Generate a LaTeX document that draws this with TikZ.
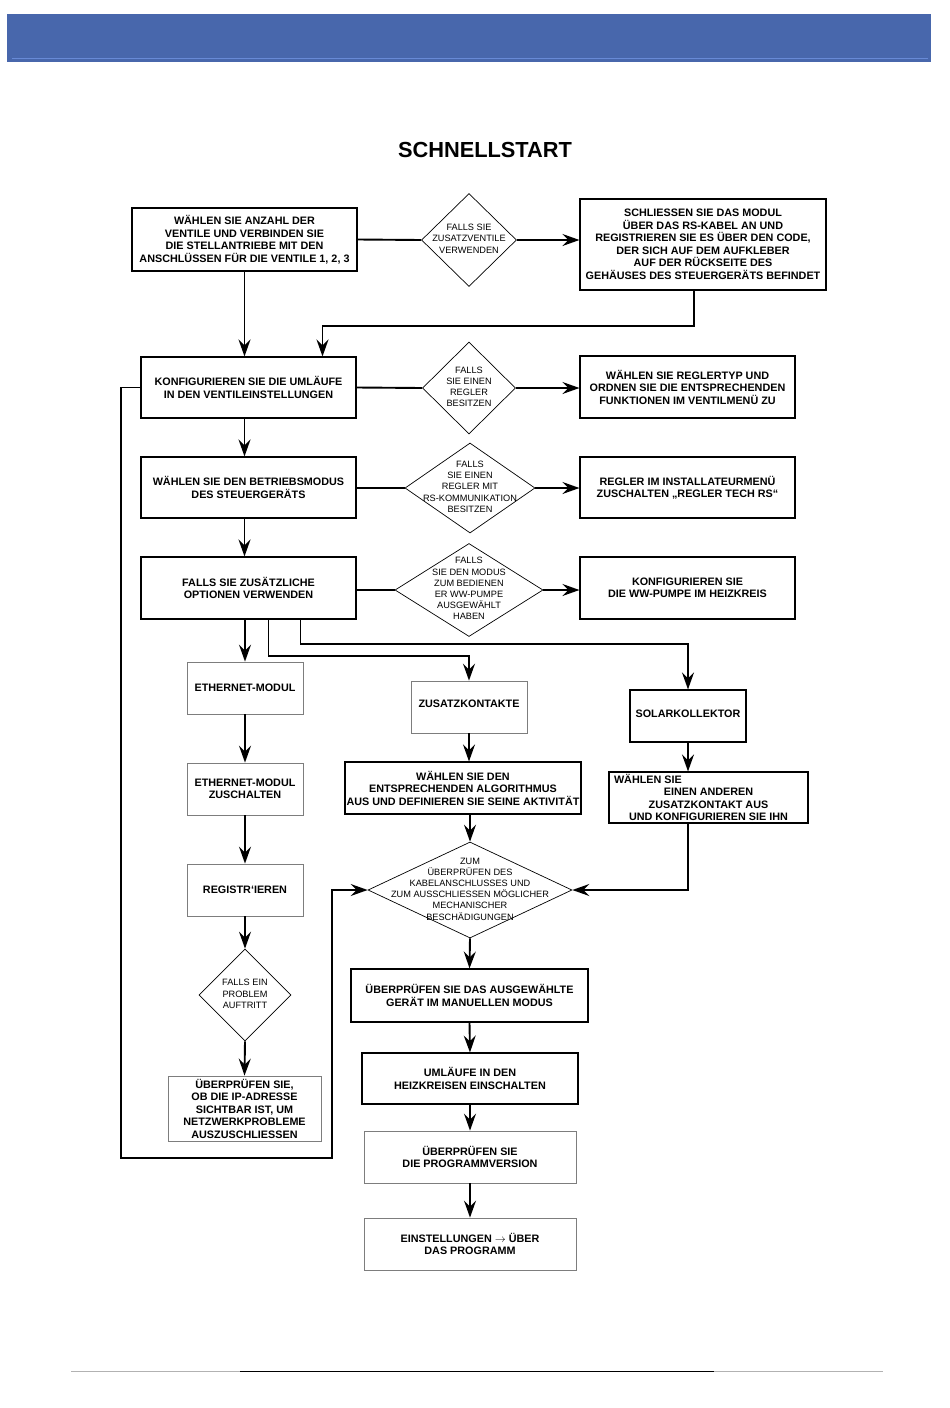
\documentclass[tikz,border=0pt]{standalone}
\usepackage{fontspec}
\setmainfont{Liberation Sans}
\usepackage{tikz}
\usetikzlibrary{arrows.meta, shapes.geometric, calc}
\definecolor{barblue}{RGB}{72, 103, 172}
\definecolor{barline}{RGB}{104, 138, 214}
\definecolor{framegray}{RGB}{125, 125, 125}
\newcommand{\dtext}[1]{\makebox[0pt]{\smash{\raisebox{-2pt}{\begin{tabular}{@{}c@{}}#1\end{tabular}}}}}

\begin{document}
\begin{tikzpicture}[x=1pt, y=-1pt,
    flowbox/.style={draw, line width=1.1pt, inner sep=0pt, align=center,
        font=\bfseries\fontsize{10.8}{12.5}\selectfont},
    greybox/.style={flowbox, draw=framegray, line width=0.8pt},
    decision/.style={draw, diamond, line width=0.7pt, inner sep=0pt, aspect=1,
        font=\fontsize{9.2}{11.2}\selectfont},
    flowline/.style={line width=1.9pt},
    flowarrow/.style={flowline, -{Stealth[length=17pt, width=12pt, inset=6pt]}}]
        \useasboundingbox (0,0) rectangle (950,1408);

        % Kopfzeile und Titel
        \fill[barblue] (7,14) rectangle (931,62);
        \draw[barline, line width=1pt] (12,58) -- (928,58);
        \node[font=\bfseries\fontsize{21.8}{26}\selectfont] (titel) at (485,150) {SCHNELLSTART};

        % Ventile und Module
        \node[flowbox, minimum width=225, minimum height=63] (b1) at (244.5,239.5)
            {WÄHLEN SIE ANZAHL DER\\VENTILE UND VERBINDEN SIE\\DIE STELLANTRIEBE MIT DEN\\ANSCHLÜSSEN FÜR DIE VENTILE 1, 2, 3};
        \node[decision, minimum width=95, minimum height=93] (d1) at (469,240)
            {\dtext{FALLS SIE\\ZUSATZVENTILE\\VERWENDEN}};
        \node[flowbox, minimum width=246, minimum height=91] (b2) at (703,244.5)
            {SCHLIESSEN SIE DAS MODUL\\ÜBER DAS RS-KABEL AN UND\\REGISTRIEREN SIE ES ÜBER DEN CODE,\\DER SICH AUF DEM AUFKLEBER\\AUF DER RÜCKSEITE DES\\GEHÄUSES DES STEUERGERÄTS BEFINDET};

        % Umlaeufe, Betriebsmodus, Optionen
        \node[flowbox, minimum width=215, minimum height=61] (b3) at (248.5,387.5)
            {KONFIGURIEREN SIE DIE UMLÄUFE\\IN DEN VENTILEINSTELLUNGEN};
        \node[decision, minimum width=93, minimum height=92] (d2) at (469,388)
            {\dtext{FALLS\\SIE EINEN\\REGLER\\BESITZEN}};
        \node[flowbox, minimum width=215, minimum height=62] (b4) at (687.5,387)
            {WÄHLEN SIE REGLERTYP UND\\ORDNEN SIE DIE ENTSPRECHENDEN\\FUNKTIONEN IM VENTILMENÜ ZU};
        \node[flowbox, minimum width=215, minimum height=61] (b5) at (248.5,487.5)
            {WÄHLEN SIE DEN BETRIEBSMODUS\\DES STEUERGERÄTS};
        \node[decision, minimum width=130, minimum height=90] (d3) at (470,488)
            {\dtext{FALLS\\SIE EINEN\\REGLER MIT\\RS-KOMMUNIKATION\\BESITZEN}};
        \node[flowbox, minimum width=215, minimum height=61] (b6) at (687.5,487.5)
            {REGLER IM INSTALLATEURMENÜ\\ZUSCHALTEN „REGLER TECH RS“};
        \node[flowbox, minimum width=215, minimum height=62] (b7) at (248.5,588)
            {FALLS SIE ZUSÄTZLICHE\\OPTIONEN VERWENDEN};
        \node[decision, minimum width=148, minimum height=93] (d4) at (469,590)
            {\dtext{FALLS\\SIE DEN MODUS\\ZUM BEDIENEN\\ER WW-PUMPE\\AUSGEWÄHLT\\HABEN}};
        \node[flowbox, minimum width=215, minimum height=62] (b8) at (687.5,588)
            {KONFIGURIEREN SIE\\DIE WW-PUMPE IM HEIZKREIS};

        % drei Zweige
        \node[greybox, minimum width=116, minimum height=52] (b9) at (245,688) {ETHERNET-MODUL};
        \node[greybox, minimum width=116, minimum height=52] (b10) at (469,707) {\raisebox{7pt}{ZUSATZKONTAKTE}};
        \node[flowbox, minimum width=116, minimum height=52] (b11) at (688,716) {\raisebox{4pt}{SOLARKOLLEKTOR}};
        \node[greybox, minimum width=116, minimum height=52] (b12) at (245,789) {ETHERNET-MODUL\\ZUSCHALTEN};
        \node[flowbox, minimum width=236, minimum height=52] (b13) at (463,788)
            {WÄHLEN SIE DEN\\ENTSPRECHENDEN ALGORITHMUS\\AUS UND DEFINIEREN SIE SEINE AKTIVITÄT};
        \node[flowbox, minimum width=199, minimum height=51] (b14) at (708.5,797.5)
            {\makebox[189pt][l]{WÄHLEN SIE}\\EINEN ANDEREN\\ZUSATZKONTAKT AUS\\UND KONFIGURIEREN SIE IHN};
        \node[greybox, minimum width=116, minimum height=52] (b15) at (245,890) {REGISTR`IEREN};
        \node[decision, minimum width=204, minimum height=96] (d5) at (470,890)
            {\dtext{ZUM\\ÜBERPRÜFEN DES\\KABELANSCHLUSSES UND\\ZUM AUSSCHLIESSEN MÖGLICHER\\MECHANISCHER\\BESCHÄDIGUNGEN}};
        \node[decision, minimum width=92, minimum height=92] (d6) at (245,995)
            {\dtext{FALLS EIN\\PROBLEM\\AUFTRITT}};
        \node[greybox, minimum width=153, minimum height=65] (b16) at (244.5,1108.5)
            {ÜBERPRÜFEN SIE,\\OB DIE IP-ADRESSE\\SICHTBAR IST, UM\\NETZWERKPROBLEME\\AUSZUSCHLIESSEN};

        % Abschluss
        \node[flowbox, minimum width=237, minimum height=53] (b17) at (469.5,995.5)
            {ÜBERPRÜFEN SIE DAS AUSGEWÄHLTE\\GERÄT IM MANUELLEN MODUS};
        \node[flowbox, minimum width=216, minimum height=51] (b18) at (470,1078.5)
            {UMLÄUFE IN DEN\\HEIZKREISEN EINSCHALTEN};
        \node[greybox, minimum width=212, minimum height=52] (b19) at (470,1157)
            {ÜBERPRÜFEN SIE\\DIE PROGRAMMVERSION};
        \node[greybox, minimum width=212, minimum height=52] (b20) at (470,1244)
            {EINSTELLUNGEN $\rightarrow$ ÜBER\\DAS PROGRAMM};

        % Verbindungen oben
        \draw[flowline] (b1.east) -- (d1.west);
        \draw[flowarrow] (d1.east) -- (d1.east -| b2.west);
        \draw[flowarrow] (b1.south) -- (b1.south |- b3.north);
        \draw[flowarrow] ([xshift=-9pt]b2.south) -- ++(0,35) -| ([xshift=74pt]b3.north);
        \draw[flowline] (b3.east) -- (d2.west);
        \draw[flowarrow] (d2.east) -- (d2.east -| b4.west);
        \draw[flowarrow] (b3.south -| b1) -- (b5.north -| b1);
        \draw[flowline] (d3.west -| b5.east) -- (d3.west);
        \draw[flowarrow] (d3.east) -- (d3.east -| b6.west);
        \draw[flowarrow] (b5.south -| b1) -- (b7.north -| b1);
        \draw[flowline] (d4.west -| b7.east) -- (d4.west);
        \draw[flowarrow] (d4.east) -- (d4.east -| b8.west);

        % Zweige
        \draw[flowarrow] (b7.south -| b9) -- (b9.north);
        \draw[flowarrow] ([xshift=20pt]b7.south) -- ++(0,36) -| (b10.north);
        \draw[flowarrow] ([xshift=52pt]b7.south) -- ++(0,24) -| (b11.north);
        \draw[flowarrow] (b9.south) -- (b12.north);
        \draw[flowarrow] (b12.south) -- (b15.north);
        \draw[flowarrow] (b15.south) -- (d6.north);
        \draw[flowarrow] (d6.south) -- (b16.north);
        \draw[flowarrow] (b10.south) -- (b10.south |- b13.north);
        \draw[flowarrow] (b13.south -| d5) -- (d5.north);
        \draw[flowarrow] (b11.south) -- (b11.south |- b14.north);
        \draw[flowarrow] (b14.south -| b11) |- (d5.east);

        % Schleife links
        \coordinate (s1) at (121,1158);
        \coordinate (s2) at (332,1158);
        \draw[flowarrow] (b3.west) -| (s1) -- (s2) |- (d5.west);

        % unten
        \draw[flowarrow] (d5.south) -- (b17.north);
        \draw[flowarrow] (b17.south) -- (b18.north);
        \draw[flowarrow] (b18.south) -- (b19.north);
        \draw[flowarrow] (b19.south) -- (b20.north);

        % Fusslinie
        \draw[gray!60, line width=1pt] (71,1371) -- (883,1371);
        \draw[line width=1pt] (240,1371) -- (714,1371);
    \end{tikzpicture}
\end{document}
